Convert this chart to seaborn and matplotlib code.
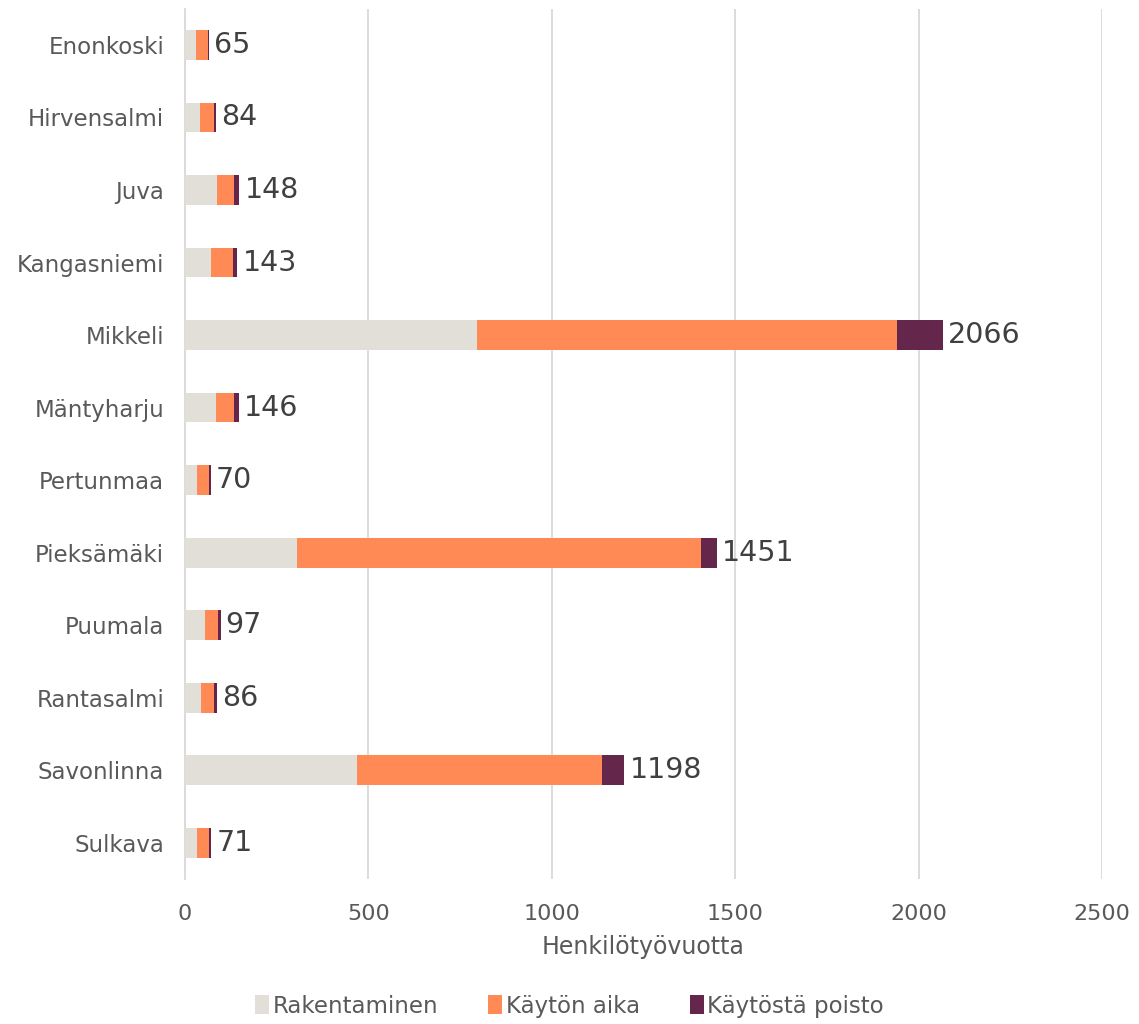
import pandas as pd
import matplotlib.pyplot as plt
import seaborn as sns

# Data
municipalities = ["Enonkoski", "Hirvensalmi", "Juva", "Kangasniemi", "Mikkeli",
                  "Mäntyharju", "Pertunmaa", "Pieksämäki", "Puumala", "Rantasalmi",
                  "Savonlinna", "Sulkava"]
rakentaminen = [29, 41, 87, 71, 796, 85, 32, 305, 55, 43, 469, 34]
kayton_aika = [34, 38, 48, 61, 1145, 49, 34, 1102, 36, 36, 668, 32]
kaytosta_poisto = [2, 5, 13, 11, 125, 12, 4, 44, 6, 7, 61, 5]
totals = [65, 84, 148, 143, 2066, 146, 70, 1451, 97, 86, 1198, 71]

series_names = ["Rakentaminen", "Käytön aika", "Käytöstä poisto"]
colors = ["#E2DFD8", "#FF8A55", "#64264B"]

df = pd.DataFrame({
    "kunta": municipalities,
    "rak": rakentaminen,
    "kaytto": kayton_aika,
    "poisto": kaytosta_poisto,
})
df["c1"] = df["rak"]
df["c2"] = df["rak"] + df["kaytto"]
df["c3"] = df["c2"] + df["poisto"]

sns.set_theme(style="white")
plt.rcParams["font.family"] = ["DejaVu Sans"]

fig = plt.figure(figsize=(11.39, 10.24), dpi=100)
ax = fig.add_axes([0.1624, 0.1416, 0.8051, 0.8499])

# stacked bars: draw cumulative sums from largest to smallest
for col, color, name in zip(["c3", "c2", "c1"], colors[::-1], series_names[::-1]):
    sns.barplot(data=df, x=col, y="kunta", orient="h", color=color,
                saturation=1, linewidth=0, width=0.41, ax=ax, label=name, zorder=3)

for i, tot in enumerate(totals):
    ax.text(df["c3"][i] + 14, i, str(tot), va="center", ha="left",
            fontsize=20.5, color="#404040")

ax.set_xlim(0, 2500)
ax.set_xticks([0, 500, 1000, 1500, 2000, 2500])
ax.grid(axis="x", color="#D9D9D9", linewidth=1.3, zorder=0)
ax.set_axisbelow(True)
for s in ["top", "right", "bottom"]:
    ax.spines[s].set_visible(False)
ax.spines["left"].set_color("#D9D9D9")
ax.spines["left"].set_linewidth(1.3)
ax.tick_params(axis="both", length=0, colors="#595959")
ax.tick_params(axis="y", labelsize=16.5, pad=15)
ax.tick_params(axis="x", labelsize=16, pad=18)
ax.set_ylabel("")
ax.set_xlabel("Henkilötyövuotta", fontsize=17, color="#595959", labelpad=8)

handles, labels = ax.get_legend_handles_labels()
handles = handles[::-1]
labels = labels[::-1]
if ax.get_legend():
    ax.get_legend().remove()
fig.legend(handles, labels, loc="lower center", bbox_to_anchor=(0.5, -0.014),
           ncol=3, frameon=False, fontsize=16.5, handlelength=0.6, handleheight=0.9,
           handletextpad=0.15, columnspacing=2.2, labelcolor="#595959")

fig.savefig("out.png", dpi=100)
